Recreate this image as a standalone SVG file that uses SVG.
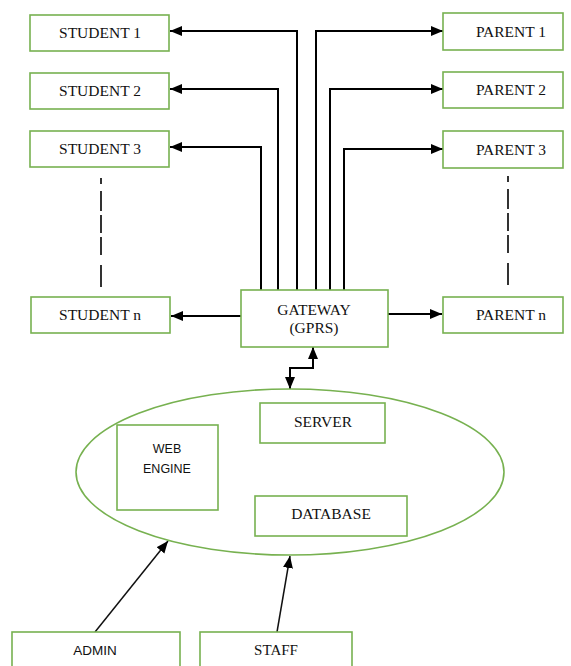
<svg xmlns="http://www.w3.org/2000/svg" width="571" height="666" viewBox="0 0 571 666">
<style>
.box{fill:#fff;stroke:#77b150;stroke-width:1.6}
.t{font-family:"Liberation Serif","Times New Roman",serif;font-size:15.5px;fill:#111;text-anchor:middle}
.s{font-family:"Liberation Sans",Arial,sans-serif;font-size:12.5px;fill:#111;text-anchor:middle}
.c{fill:none;stroke:#000;stroke-width:2}
.c2{fill:none;stroke:#111;stroke-width:1.5}
.d{fill:none;stroke:#000;stroke-width:1.6;stroke-dasharray:6 7 20 4 18 4 18 10 22}
</style>
<defs>
<marker id="ah" markerUnits="userSpaceOnUse" markerWidth="13" markerHeight="11" refX="12" refY="5" orient="auto">
<path d="M0,0 L12,5 L0,10 z" fill="#000"/>
</marker>
</defs>
<g id="connectors">
<polyline class="c" points="297,290 297,31 170,31" marker-end="url(#ah)"/>
<polyline class="c" points="278,290 278,89 170,89" marker-end="url(#ah)"/>
<polyline class="c" points="261,290 261,147 170,147" marker-end="url(#ah)"/>
<polyline class="c" points="316,290 316,31 443,31" marker-end="url(#ah)"/>
<polyline class="c" points="330,290 330,89 443,89" marker-end="url(#ah)"/>
<polyline class="c" points="344,290 344,149 443,149" marker-end="url(#ah)"/>
<line class="c" x1="241" y1="316" x2="171" y2="316" marker-end="url(#ah)"/>
<line class="c" x1="388" y1="314" x2="442" y2="314" marker-end="url(#ah)"/>
<line class="d" x1="101" y1="178" x2="101" y2="287"/>
<line class="d" x1="508" y1="176" x2="508" y2="285"/>
<polyline class="c" points="313,369 313,347" marker-end="url(#ah)"/>
<polyline class="c" points="313,368 290,368 290,389" marker-end="url(#ah)"/>
<line class="c2" x1="95" y1="632" x2="168" y2="541" marker-end="url(#ah)"/>
<line class="c2" x1="277" y1="632" x2="290" y2="556" marker-end="url(#ah)"/>
</g>
<g id="student1"><rect class="box" x="30" y="15" width="139" height="36"/><text class="t" x="100" y="38">STUDENT 1</text></g>
<g id="student2"><rect class="box" x="30" y="73" width="139" height="36"/><text class="t" x="100" y="96">STUDENT 2</text></g>
<g id="student3"><rect class="box" x="30" y="131" width="139" height="36"/><text class="t" x="100" y="154">STUDENT 3</text></g>
<g id="studentn"><rect class="box" x="31" y="297" width="139" height="36"/><text class="t" x="100" y="320">STUDENT n</text></g>
<g id="parent1"><rect class="box" x="443" y="13" width="120" height="37"/><text class="t" x="511" y="37">PARENT 1</text></g>
<g id="parent2"><rect class="box" x="443" y="72" width="120" height="36"/><text class="t" x="511" y="95">PARENT 2</text></g>
<g id="parent3"><rect class="box" x="443" y="131" width="120" height="37"/><text class="t" x="511" y="155">PARENT 3</text></g>
<g id="parentn"><rect class="box" x="443" y="297" width="120" height="36"/><text class="t" x="511" y="320">PARENT n</text></g>
<g id="gateway"><rect class="box" x="241" y="290" width="147" height="57"/><text class="t" x="314" y="315">GATEWAY</text><text class="t" x="314" y="333">(GPRS)</text></g>
<g id="system"><ellipse cx="290" cy="472" rx="214" ry="83" fill="none" stroke="#77b150" stroke-width="1.6"/></g>
<g id="server"><rect class="box" x="260" y="403" width="125" height="40"/><text class="t" x="323" y="427">SERVER</text></g>
<g id="webengine"><rect class="box" x="117" y="425" width="101" height="85"/><text class="s" x="167" y="453">WEB</text><text class="s" x="167" y="473">ENGINE</text></g>
<g id="database"><rect class="box" x="255" y="496" width="152" height="40"/><text class="t" x="331" y="519">DATABASE</text></g>
<g id="admin"><rect class="box" x="12" y="632" width="168" height="40"/><text class="s" x="95" y="655" style="font-size:13.5px">ADMIN</text></g>
<g id="staff"><rect class="box" x="200" y="632" width="152" height="40"/><text class="t" x="276" y="655" style="font-size:15px">STAFF</text></g>
</svg>
